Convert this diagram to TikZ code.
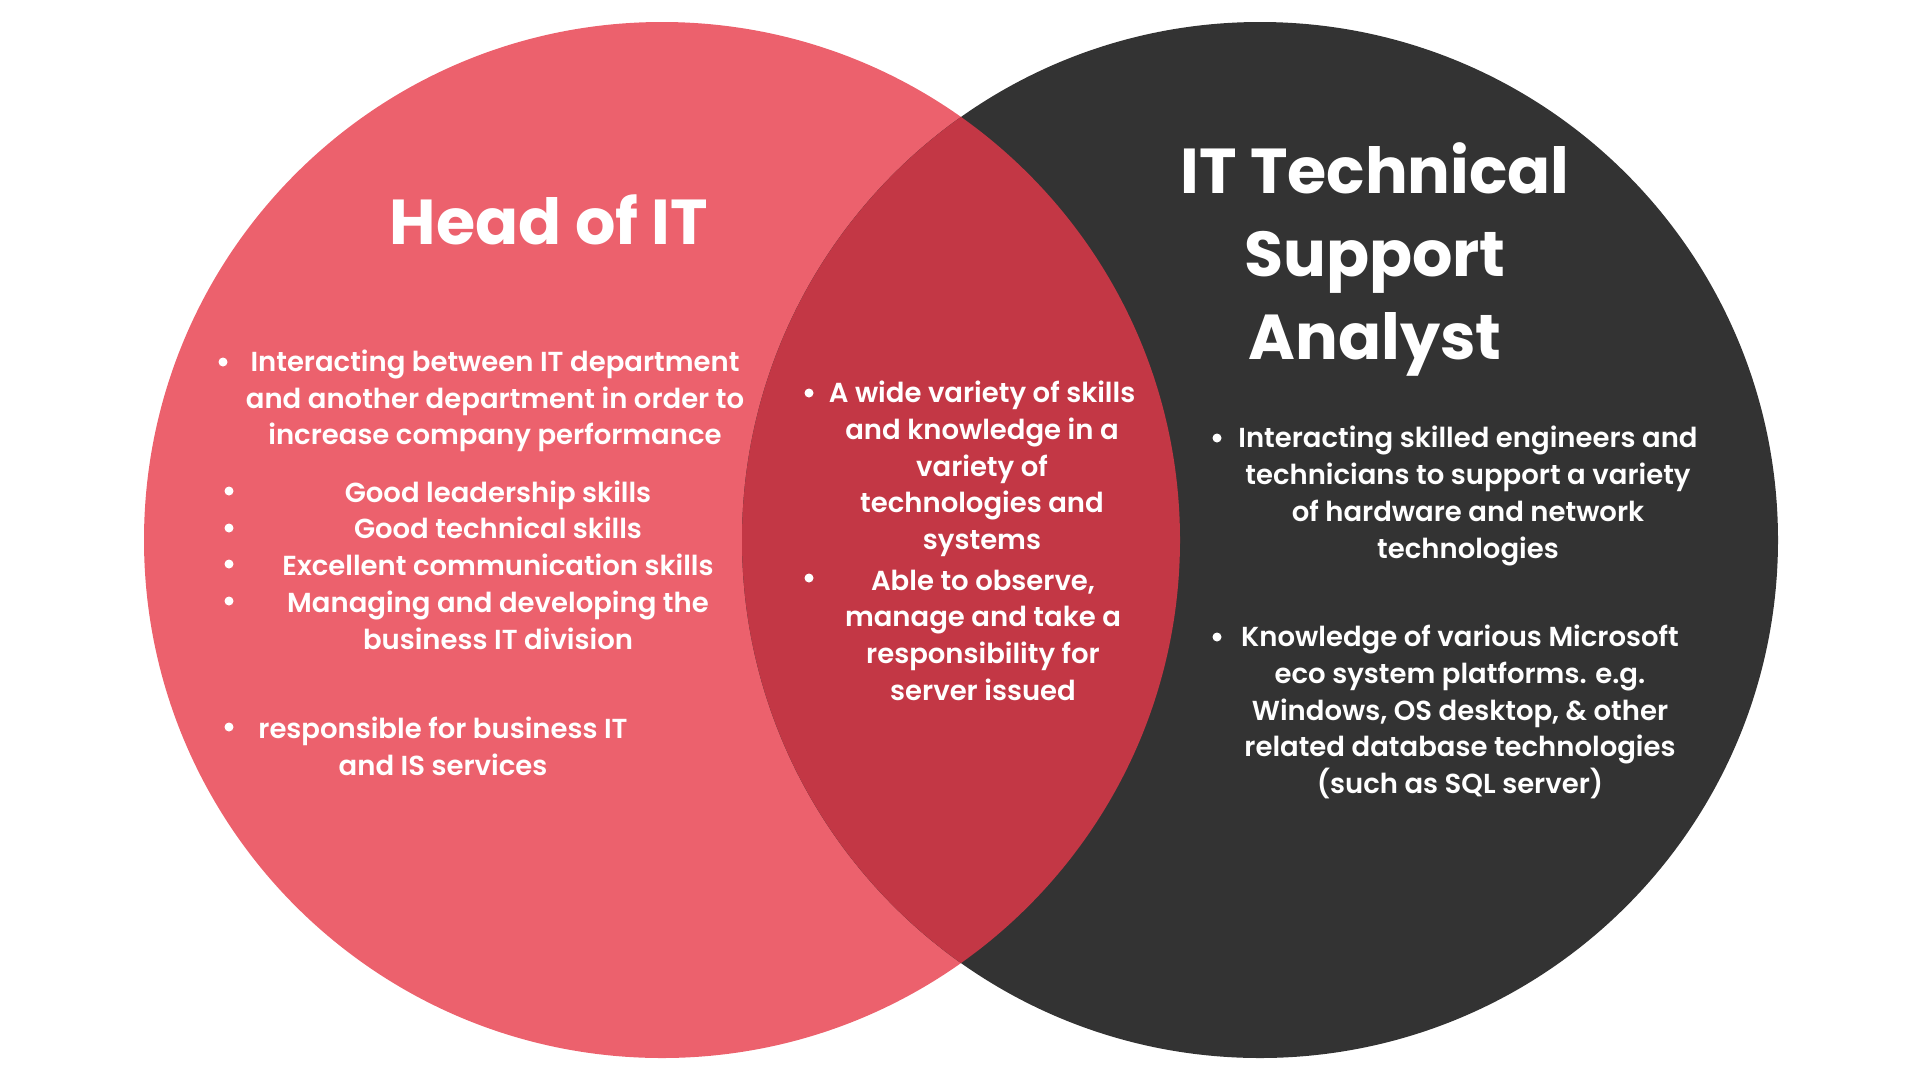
\documentclass[tikz,border=0pt]{standalone}
\usepackage{fontspec}
\setmainfont{Poppins}
\newfontfamily\itemfont{Poppins SemiBold}
\usetikzlibrary{positioning}
\definecolor{headred}{HTML}{EC616D}
\definecolor{sharedred}{HTML}{C33745}
\definecolor{analystgrey}{HTML}{333333}
\tikzset{
  skills/.style={text=white, align=center, inner sep=0pt,
    font=\itemfont\fontsize{27.5}{36.7}\selectfont},
  roletitle/.style={text=white, align=center, inner sep=0pt,
    font=\bfseries\fontsize{63.5}{83}\selectfont},
  bulletdot/.style={circle, fill=white, inner sep=0pt, minimum size=9pt},
}

\begin{document}
\begin{tikzpicture}[x=1pt, y=-1pt]
    \useasboundingbox (0,0) rectangle (1920,1080);

    % --- Circles ---
    \fill[headred] (662,540) circle[radius=518pt];
    \fill[analystgrey] (1260,540) circle[radius=518pt];
    % overlap
    \begin{scope}
        \clip (662,540) circle[radius=518pt];
        \fill[sharedred] (1260,540) circle[radius=518pt];
    \end{scope}

    % --- Titles ---
    \node[roletitle] (headtitle) at (549,220) {Head of IT};
    \node[roletitle] (analysttitle) at (1375,259) {IT Technical\\Support\\Analyst};

    % --- Head of IT ---
    \node[skills] (head1) at (495,401) {Interacting between IT department\\and another department in order to\\increase company performance};
    \node[skills] (head2) at (498,565) {Good leadership skills\\Good technical skills\\Excellent communication skills\\Managing and developing the\\business IT division};
    \node[skills] (head3) at (443,746) {responsible for business IT\\and IS services};

    \node[bulletdot] (hb1) at (223,362) {};
    \node[bulletdot] (hb2) at (229,491) {};
    \node[bulletdot] (hb3) at (229,528) {};
    \node[bulletdot] (hb4) at (229,564) {};
    \node[bulletdot] (hb5) at (229,601) {};
    \node[bulletdot] (hb6) at (229,727) {};

    % --- Shared ---
    \node[skills] (shared1) at (982,469) {A wide variety of skills\\and knowledge in a\\variety of\\technologies and\\systems};
    \node[skills] (shared2) at (983,635) {Able to observe,\\manage and take a\\responsibility for\\server issued};

    \node[bulletdot] (sb1) at (809,393) {};
    \node[bulletdot] (sb2) at (809,578) {};

    % --- IT Technical Support Analyst ---
    \node[skills] (analyst1) at (1468,496) {Interacting skilled engineers and\\technicians to support a variety\\of hardware and network\\technologies};
    \node[skills] (analyst2) at (1460,712) {Knowledge of various Microsoft\\eco system platforms. e.g.\\Windows, OS desktop, \& other\\related database technologies\\(such as SQL server)};

    \node[bulletdot] (ab1) at (1217,438) {};
    \node[bulletdot] (ab2) at (1217,637) {};

\end{tikzpicture}
\end{document}
